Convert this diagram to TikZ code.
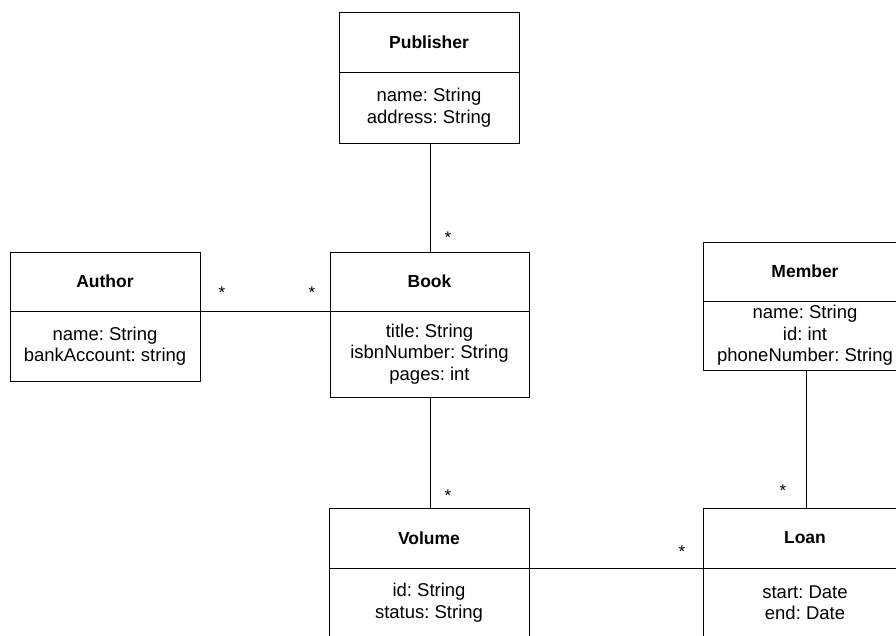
\documentclass[tikz,border=0pt]{standalone}
\usepackage{fontspec}
\setmainfont{Liberation Sans}
\begin{document}
\frenchspacing
\begin{tikzpicture}[x=1pt,y=-1pt,
  box/.style={draw=black, line width=0.9pt, inner sep=0pt, outer sep=0pt},
  ctitle/.style={box, anchor=north west, font=\fontsize{17.5}{20}\selectfont\bfseries},
  cattr/.style={box, anchor=north, align=center, font=\fontsize{18.5}{21.5}\selectfont\frenchspacing},
  link/.style={draw=black, line width=0.8pt},
  mult/.style={anchor=base, inner sep=0pt, font=\fontsize{17}{20}\selectfont}]
\useasboundingbox (0,0) rectangle (896,635);
\clip (0,0) rectangle (896,635);
\fill[white] (0,0) rectangle (896,635);

% Publisher
\node[ctitle, minimum width=180, minimum height=60] (pubT) at (339,12) {Publisher};
\node[cattr, minimum width=180, minimum height=71] (pubA) at (pubT.south) {name: String\\address: String};

% Author
\node[ctitle, minimum width=190, minimum height=59] (autT) at (10,252) {Author};
\node[cattr, minimum width=190, minimum height=70] (autA) at (autT.south) {name: String\\bankAccount: string};

% Book
\node[ctitle, minimum width=199, minimum height=59] (bookT) at (330,252) {Book};
\node[cattr, minimum width=199, minimum height=86] (bookA) at (bookT.south) {title: String\\isbnNumber: String\\pages: int};

% Member
\node[ctitle, minimum width=204, minimum height=59] (memT) at (703,242) {Member};
\node[cattr, minimum width=204, minimum height=69] (memA) at (memT.south) {name: String\\id: int\\phoneNumber: String};

% Volume
\node[ctitle, minimum width=200, minimum height=60] (volT) at (329,508) {Volume};
\node[cattr, minimum width=200, minimum height=69] (volA) at (volT.south) {id: String\\status: String};

% Loan
\node[ctitle, minimum width=204, minimum height=60] (loanT) at (703,508) {Loan};
\node[cattr, minimum width=204, minimum height=69] (loanA) at (loanT.south) {start: Date\\end: Date};

% Connectors
\coordinate (pb) at (430,143);
\coordinate (bt) at (430,252);
\draw[link] (pb) -- (bt);
\draw[link] (autA.north east) -- (bookA.north west);
\coordinate (bb) at (430,397);
\coordinate (vt) at (430,508);
\draw[link] (bb) -- (vt);
\coordinate (mb) at (806,370);
\coordinate (lt) at (806,508);
\draw[link] (mb) -- (lt);
\draw[link] (volA.north east) -- (loanA.north west);

% Multiplicities
\node[mult] (m1) at (448,243) {*};
\node[mult] (m2) at (222,298) {*};
\node[mult] (m3) at (312,298) {*};
\node[mult] (m4) at (448,501) {*};
\node[mult] (m5) at (783,496) {*};
\node[mult] (m6) at (682,557) {*};
\end{tikzpicture}
\end{document}
